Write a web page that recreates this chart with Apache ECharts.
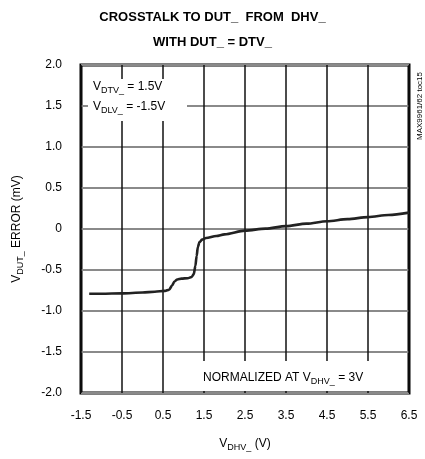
<!DOCTYPE html>
<html><head><meta charset="utf-8">
<script src="https://cdn.jsdelivr.net/npm/echarts@6/dist/echarts.min.js"></script>
<style>html,body{margin:0;padding:0;background:#fff}#c{width:425px;height:459px}</style>
</head><body><div id="c"></div>
<script>
const xVals = [-1.3,-1.0,-0.5,0.0,0.3,0.55,0.65,0.72,0.78,0.85,0.95,1.1,1.2,1.25,1.29,1.32,1.35,1.39,1.45,1.55,1.8,2.0,2.5,3.0,3.5,4.0,4.5,5.0,5.5,6.0,6.5];
const yVals = [-0.79,-0.79,-0.785,-0.775,-0.765,-0.755,-0.74,-0.69,-0.64,-0.615,-0.605,-0.60,-0.585,-0.55,-0.45,-0.33,-0.22,-0.16,-0.13,-0.11,-0.085,-0.065,-0.02,0.005,0.035,0.065,0.095,0.12,0.145,0.17,0.2];
const xTicks = ['-1.5','-0.5','0.5','1.5','2.5','3.5','4.5','5.5','6.5'];
const yTicks = ['-2.0','-1.5','-1.0','-0.5','0','0.5','1.0','1.5','2.0'];

const FONT = 'Liberation Sans';
const sub = {fontSize: 9, fontFamily: FONT, verticalAlign: 'bottom', lineHeight: 16, padding:[5,0,0,0]};
const chart = echarts.init(document.getElementById('c'));
chart.setOption({
  animation: false,
  title: {
    text: 'CROSSTALK TO DUT_  FROM  DHV_\nWITH DUT_ = DTV_',
    left: 'center', top: 5, padding: 0,
    textStyle: {fontFamily: FONT, fontSize: 13, fontWeight: 'bold', color: '#000', lineHeight: 25}
  },
  grid: {left: 81, top: 65, width: 328, height: 328, show: true, borderColor: '#000', borderWidth: 3, backgroundColor: 'transparent'},
  xAxis: {
    type: 'value', min: -1.5, max: 6.5, interval: 1,
    axisLine: {show: false}, axisTick: {show: false},
    axisLabel: {fontFamily: FONT, fontSize: 12, color: '#000', margin: 17,
      formatter: v => { const i = Math.round(v + 1.5); return xTicks[i] !== undefined && Math.abs(v - (i - 1.5)) < 1e-6 ? xTicks[i] : ''; }},
    splitLine: {show: true, lineStyle: {color: '#111', width: 1.5}},
    name: '{n|V}{s|DHV_}{n| (V)}', nameLocation: 'middle', nameGap: 43,
    nameTextStyle: {rich: {n: {fontFamily: FONT, fontSize: 12, color: '#000'}, s: Object.assign({}, sub, {color:'#000'})}}
  },
  yAxis: {
    type: 'value', min: -2, max: 2, interval: 0.5,
    axisLine: {show: false}, axisTick: {show: false},
    axisLabel: {fontFamily: FONT, fontSize: 12, color: '#000', margin: 19,
      formatter: v => yTicks[Math.round((v + 2) / 0.5)]},
    splitLine: {show: true, lineStyle: {color: '#8a8a8a', width: 2}},
    name: '{n|V}{s|DUT_}{n| ERROR (mV)}', nameLocation: 'middle', nameGap: 56, nameRotate: 90,
    nameTextStyle: {rich: {n: {fontFamily: FONT, fontSize: 12, color: '#000'}, s: Object.assign({}, sub, {color:'#000'})}}
  },
  series: [{
    type: 'line', data: xVals.map((x, i) => [x, yVals[i]]),
    showSymbol: false, smooth: 0.3, smoothMonotone: 'x',
    lineStyle: {color: '#222', width: 2.6}, z: 3
  }],
  graphic: [
    {type: 'rect', shape: {x: 88, y: 79, width: 99, height: 42}, style: {fill: '#fff'}, z: 10},
    {type: 'text', x: 93, y: 87, z: 11, style: {text: '{n|V}{s|DTV_}{n| = 1.5V}', verticalAlign: 'middle',
      rich: {n: {fontFamily: FONT, fontSize: 12, fill: '#000'}, s: Object.assign({}, sub, {fill:'#000'})}}},
    {type: 'text', x: 93, y: 107, z: 11, style: {text: '{n|V}{s|DLV_}{n| = -1.5V}', verticalAlign: 'middle',
      rich: {n: {fontFamily: FONT, fontSize: 12, fill: '#000'}, s: Object.assign({}, sub, {fill:'#000'})}}},
    {type: 'rect', shape: {x: 200, y: 361, width: 205, height: 30}, style: {fill: '#fff'}, z: 10},
    {type: 'text', x: 203, y: 378, z: 11, style: {text: '{n|NORMALIZED AT V}{s|DHV_}{n| = 3V}', verticalAlign: 'middle',
      rich: {n: {fontFamily: FONT, fontSize: 12, fill: '#000'}, s: Object.assign({}, sub, {fill:'#000'})}}},
    {type: 'text', x: 420, y: 106, rotation: Math.PI / 2, z: 11, style: {text: 'MAX9961/62 toc15', align: 'center', verticalAlign: 'middle',
      fontFamily: FONT, fontSize: 8, fill: '#000'}}
  ]
});
</script></body></html>
